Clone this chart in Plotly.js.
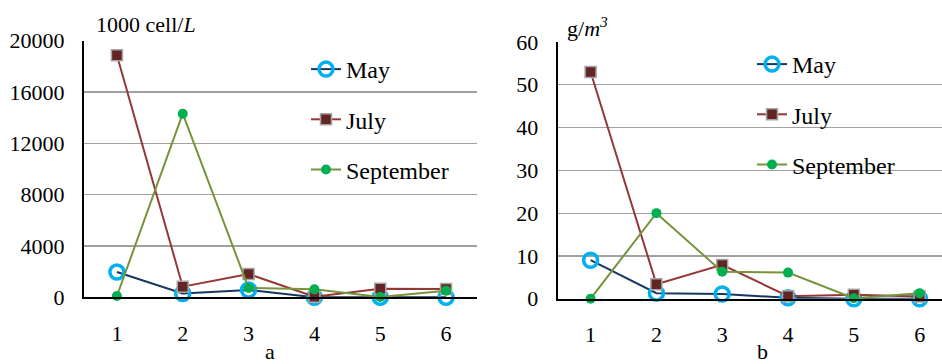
<!DOCTYPE html>
<html><head><meta charset="utf-8">
<script src="https://cdn.plot.ly/plotly-3.0.1.min.js"></script>
<style>html,body{margin:0;padding:0;background:#fff}</style>
</head><body><div id="chart" style="width:942px;height:364px"></div>
<script>
const sites = [1, 2, 3, 4, 5, 6];
const seriesNames = ["May", "July", "September"];
// panel a: abundance, 1000 cell/L
const mayA = [1970, 300, 570, 0, 0, 0];
const julyA = [18860, 830, 1820, 50, 670, 650];
const septA = [100, 14310, 725, 620, 30, 520];
// panel b: biomass, g/m3
const mayB = [9.0, 1.3, 1.1, 0.2, 0, 0];
const julyB = [53.0, 3.4, 7.9, 0.6, 0.9, 0.5];
const septB = [0, 20.0, 6.3, 6.1, 0.1, 1.3];
const yTicksA = [0, 4000, 8000, 12000, 16000, 20000];
const yTicksB = [0, 10, 20, 30, 40, 50, 60];

const FONT = "'Liberation Serif', 'Times New Roman', serif";
const styles = [
  {line: {color: "#17375e", width: 2}, marker: {symbol: "circle-open", size: 14, color: "#00b0f0", line: {width: 3.5, color: "#00b0f0"}}},
  {line: {color: "#953735", width: 2}, marker: {symbol: "square", size: 11, color: "#632523", line: {width: 1.5, color: "#a6a6a6"}}},
  {line: {color: "#77933c", width: 2}, marker: {symbol: "circle", size: 10, color: "#00b050", line: {width: 0}}}
];
function mk(y, i, ax, leg) {
  return {x: sites, y: y, name: seriesNames[i], type: "scatter", mode: "lines+markers",
    xaxis: ax[0], yaxis: ax[1], legend: leg, legendgroup: leg + i, cliponaxis: false,
    line: styles[i].line, marker: styles[i].marker};
}
const data = [
  mk(mayA, 0, ["x", "y"], "legend"), mk(julyA, 1, ["x", "y"], "legend"), mk(septA, 2, ["x", "y"], "legend"),
  mk(mayB, 0, ["x2", "y2"], "legend2"), mk(julyB, 1, ["x2", "y2"], "legend2"), mk(septB, 2, ["x2", "y2"], "legend2")
];
const W = 942, H = 364;
function xax(dom, r, anchor) {
  return {domain: dom, range: r, anchor: anchor, tickvals: sites, ticktext: sites.map(String), showgrid: false,
    zeroline: false, showline: true, linecolor: "#000", linewidth: 2, ticks: "", ticklabelstandoff: 15,
    tickfont: {family: FONT, size: 22, color: "#000"}, fixedrange: true};
}
function yax(dom, r, tv, anchor) {
  return {domain: dom, range: r, anchor: anchor, tickvals: tv, ticktext: tv.map(String), showgrid: true, gridcolor: "#a0a0a0", gridwidth: 1.2,
    zeroline: false, showline: true, linecolor: "#000", linewidth: 2, ticks: "", ticklabelstandoff: 13,
    tickfont: {family: FONT, size: 22, color: "#000"}, fixedrange: true};
}
const legStyle = (x, y) => ({x: x, y: y, xanchor: "left", yanchor: "top", bgcolor: "rgba(0,0,0,0)",
  font: {family: FONT, size: 24, color: "#000"}, tracegroupgap: 16, itemwidth: 30});
const layout = {
  width: W, height: H, margin: {l: 0, r: 0, t: 0, b: 0}, paper_bgcolor: "#fff", plot_bgcolor: "#fff",
  showlegend: true,
  xaxis: xax([84 / W, 477 / W], [0.5, 6.47], "y"),
  yaxis: yax([(H - 297.3) / H, (H - 40.7) / H], [0, 20000], yTicksA, "x"),
  xaxis2: xax([557.7 / W, 1], [0.5, 6.34], "y2"),
  yaxis2: yax([(H - 298.7) / H, (H - 42) / H], [0, 60], yTicksB, "x2"),
  legend: legStyle(306 / W, (H - 47) / H),
  legend2: legStyle(752 / W, (H - 42) / H),
  annotations: [
    {text: "1000 cell/<i>L</i>", xref: "paper", yref: "paper", x: 94 / W, y: (H - 25) / H, xanchor: "left", yanchor: "middle", showarrow: false, font: {family: FONT, size: 22, color: "#000"}},
    {text: "g/<i>m<sup>3</sup></i>", xref: "paper", yref: "paper", x: 565 / W, y: (H - 27) / H, xanchor: "left", yanchor: "middle", showarrow: false, font: {family: FONT, size: 22, color: "#000"}},
    {text: "a", xref: "paper", yref: "paper", x: 270 / W, y: (H - 351) / H, xanchor: "center", yanchor: "middle", showarrow: false, font: {family: FONT, size: 22, color: "#000"}},
    {text: "b", xref: "paper", yref: "paper", x: 762 / W, y: (H - 351) / H, xanchor: "center", yanchor: "middle", showarrow: false, font: {family: FONT, size: 22, color: "#000"}}
  ]
};
Plotly.newPlot("chart", data, layout, {staticPlot: true, displayModeBar: false});
</script></body></html>
